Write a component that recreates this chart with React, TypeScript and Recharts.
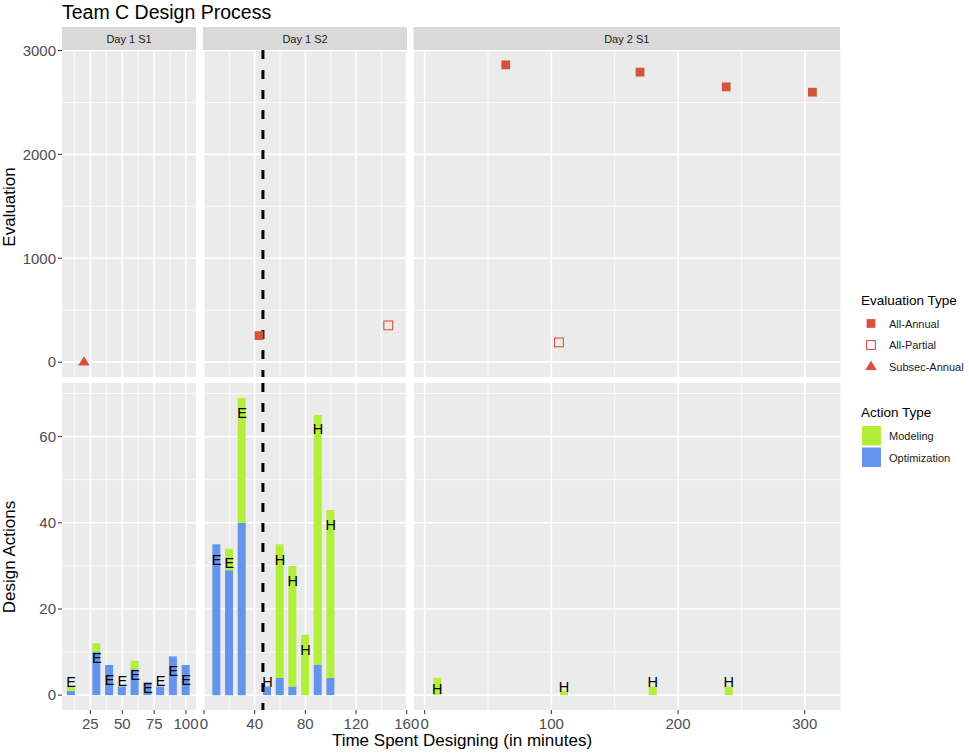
import React from 'react'
import { ComposedChart, Bar, Scatter, XAxis, YAxis, CartesianGrid, ReferenceLine } from 'recharts'

// Day 1 S1 design actions
const s1Minutes = [10, 30, 40, 50, 60, 70, 80, 90, 100]
const s1Optimization = [1, 10, 7, 2, 6, 3, 2, 9, 7]
const s1Modeling = [1, 2, 0, 0, 2, 0, 0, 0, 0]
const s1Labels = ['E', 'E', 'E', 'E', 'E', 'E', 'E', 'E', 'E']
const s1LabelY = [3.1, 8.6, 3.5, 3.2, 4.6, 1.6, 3.2, 5.6, 3.5]

// Day 1 S2 design actions
const s2Minutes = [10, 20, 30, 50, 60, 70, 80, 90, 100]
const s2Optimization = [35, 29, 40, 2, 4, 2, 0, 7, 4]
const s2Modeling = [0, 5, 29, 0, 31, 28, 14, 58, 39]
const s2Labels = ['E', 'E', 'E', 'H', 'H', 'H', 'H', 'H', 'H']
const s2LabelY = [31.4, 30.7, 65.6, 3.1, 31.4, 26.5, 10.5, 61.7, 39.6]

// Day 2 S1 design actions
const d2Minutes = [10, 110, 180, 240]
const d2Optimization = [0, 0, 0, 0]
const d2Modeling = [4, 1, 2, 2]
const d2Labels = ['H', 'H', 'H', 'H']
const d2LabelY = [1.5, 1.9, 3.1, 3.1]

// evaluations
const s1EvalMinutes = [20]
const s1EvalValues = [0]
const s1EvalTypes = ['Subsec-Annual']
const s2EvalMinutes = [43.4, 145.4]
const s2EvalValues = [255, 354]
const s2EvalTypes = ['All-Annual', 'All-Partial']
const d2EvalMinutes = [64, 106, 170, 238, 306]
const d2EvalValues = [2862, 190, 2792, 2650, 2599]
const d2EvalTypes = ['All-Annual', 'All-Partial', 'All-Annual', 'All-Annual', 'All-Annual']

const breakMinute = 46.5

const evalTicks = [0, 1000, 2000, 3000]
const evalMinor = [500, 1500, 2500]
const actionTicks = [0, 20, 40, 60]
const actionMinor = [10, 30, 50, 70]

const RED = '#D4533C'
const GREEN = '#B3EE3A'
const BLUE = '#6495ED'
const PANEL_BG = '#EBEBEB'
const STRIP_BG = '#D9D9D9'
const TICK_TEXT = '#4D4D4D'
const FONT = '"Liberation Sans", Arial, Helvetica, sans-serif'

const bars = (xs: number[], opt: number[], mod: number[]) =>
  xs.map((x, i) => ({ x, opt: opt[i], mod: mod[i] }))
const labels = (xs: number[], ys: number[], txt: string[]) =>
  xs.map((x, i) => ({ x, y: ys[i], label: txt[i] }))
const evals = (xs: number[], ys: number[], kinds: string[]) =>
  xs.map((x, i) => ({ x, y: ys[i], kind: kinds[i] }))

const panels = [
  {
    title: 'Day 1 S1', left: 62, width: 134, domain: [2.8, 107.8], ticks: [25, 50, 75, 100],
    minor: [12.5, 37.5, 62.5, 87.5],
    bars: bars(s1Minutes, s1Optimization, s1Modeling),
    labels: labels(s1Minutes, s1LabelY, s1Labels),
    evals: evals(s1EvalMinutes, s1EvalValues, s1EvalTypes),
    dashed: false,
  },
  {
    title: 'Day 1 S2', left: 203, width: 204, domain: [-0.8, 160.2], ticks: [0, 40, 80, 120, 160],
    minor: [20, 60, 100, 140],
    bars: bars(s2Minutes, s2Optimization, s2Modeling),
    labels: labels(s2Minutes, s2LabelY, s2Labels),
    evals: evals(s2EvalMinutes, s2EvalValues, s2EvalTypes),
    dashed: true,
  },
  {
    title: 'Day 2 S1', left: 413.5, width: 426.5, domain: [-8.4, 328.2], ticks: [0, 100, 200, 300],
    minor: [50, 150, 250],
    bars: bars(d2Minutes, d2Optimization, d2Modeling),
    labels: labels(d2Minutes, d2LabelY, d2Labels),
    evals: evals(d2EvalMinutes, d2EvalValues, d2EvalTypes),
    dashed: false,
  },
]

const rows = [
  { key: 'eval', top: 50, height: 327, domain: [-143, 3005], ticks: evalTicks, minor: evalMinor },
  { key: 'actions', top: 383, height: 327, domain: [-3.45, 72.45], ticks: actionTicks, minor: actionMinor },
]

const PAD_X = 22
const PAD_T = 14
const Y_AXIS_W = 55
const X_AXIS_H = 34

const evalShape = (props: any) => {
  const { cx, cy } = props
  if (cx == null || cy == null) return <g />
  const kind = props.payload?.kind ?? props.kind
  if (kind === 'Subsec-Annual') {
    return <polygon points={`${cx},${cy - 6} ${cx - 5.8},${cy + 3.3} ${cx + 5.8},${cy + 3.3}`} fill={RED} />
  }
  if (kind === 'All-Partial') {
    return <rect x={cx - 4.4} y={cy - 4.4} width={8.8} height={8.8} fill="none" stroke={RED} strokeWidth={1.1} />
  }
  return <rect x={cx - 4.4} y={cy - 4.4} width={8.8} height={8.8} fill={RED} />
}

const labelShape = (props: any) => {
  const { cx, cy } = props
  if (cx == null || cy == null) return <g />
  return (
    <text x={cx} y={cy} textAnchor="middle" dominantBaseline="central" fontSize={14.5} fill="#000">
      {props.payload?.label ?? props.label}
    </text>
  )
}

function FacetChart({ panel, row, first }: { panel: any; row: any; first: boolean }) {
  const showX = row.key === 'actions'
  const padL = first ? panel.left : PAD_X
  const padB = showX ? X_AXIS_H : PAD_T
  const w = panel.width + padL + PAD_X
  const h = row.height + PAD_T + padB
  return (
    <div style={{ position: 'absolute', left: panel.left - padL, top: row.top - PAD_T }}>
      <ComposedChart
        width={w}
        height={h}
        data={showX ? panel.bars : undefined}
        margin={{ top: PAD_T, right: PAD_X, bottom: showX ? 0 : padB, left: first ? padL - Y_AXIS_W : padL }}
      >
        <CartesianGrid
          fill={PANEL_BG}
          stroke="#FFFFFF"
          strokeWidth={0.8}
          horizontalValues={row.minor}
          verticalValues={panel.minor}
        />
        <CartesianGrid
          stroke="#FFFFFF"
          strokeWidth={1.6}
          horizontalValues={row.ticks}
          verticalValues={panel.ticks}
        />
        <XAxis
          type="number"
          dataKey="x"
          domain={panel.domain}
          ticks={panel.ticks}
          allowDataOverflow
          interval={0}
          hide={!showX}
          height={X_AXIS_H}
          axisLine={false}
          tickSize={4}
          tickMargin={4}
          tickLine={{ stroke: '#333333' }}
          tick={{ fill: TICK_TEXT, fontSize: 15 }}
        />
        <YAxis
          type="number"
          domain={row.domain}
          ticks={row.ticks}
          allowDataOverflow
          interval={0}
          hide={!first}
          width={Y_AXIS_W}
          axisLine={false}
          tickSize={4}
          tickMargin={2}
          tickLine={{ stroke: '#333333' }}
          tick={{ fill: TICK_TEXT, fontSize: 15 }}
        />
        {showX && <Bar dataKey="opt" stackId="s" fill={BLUE} barSize={8} isAnimationActive={false} />}
        {showX && <Bar dataKey="mod" stackId="s" fill={GREEN} barSize={8} isAnimationActive={false} />}
        {!showX && <Scatter data={panel.evals} dataKey="y" shape={evalShape} isAnimationActive={false} />}
        {panel.dashed && (
          <ReferenceLine
            segment={[{ x: breakMinute, y: row.domain[1] }, { x: breakMinute, y: row.domain[0] }]}
            stroke="#000000"
            strokeWidth={3}
            strokeDasharray="9 11"
            ifOverflow="hidden"
          />
        )}
        {showX && <Scatter data={panel.labels} dataKey="y" shape={labelShape} isAnimationActive={false} />}
      </ComposedChart>
    </div>
  )
}

export default function App() {
  return (
    <div style={{ position: 'absolute', left: 0, top: 0, width: 969, height: 754, background: '#FFFFFF', fontFamily: FONT }}>
      {rows.map((row) =>
        panels.map((panel, i) => (
          <FacetChart key={row.key + panel.title} panel={panel} row={row} first={i === 0} />
        ))
      )}
      <svg width={969} height={754} style={{ position: 'absolute', left: 0, top: 0, pointerEvents: 'none' }} fontFamily={FONT}>
        <text x={62} y={18.5} fontSize={19.5} fill="#000">Team C Design Process</text>
        {panels.map((p) => (
          <g key={p.title}>
            <rect x={p.left} y={27} width={p.width} height={23} fill={STRIP_BG} />
            <text x={p.left + p.width / 2} y={38.8} textAnchor="middle" dominantBaseline="central" fontSize={11} fill="#1A1A1A">
              {p.title}
            </text>
          </g>
        ))}
        <text transform="translate(15,207) rotate(-90)" textAnchor="middle" fontSize={17} fill="#000">Evaluation</text>
        <text transform="translate(15,557) rotate(-90)" textAnchor="middle" fontSize={17} fill="#000">Design Actions</text>
        <text x={462} y={745.5} textAnchor="middle" fontSize={17} fill="#000">Time Spent Designing (in minutes)</text>

        <text x={861} y={304.5} fontSize={13.5} fill="#000">Evaluation Type</text>
        <rect x={866.6} y={319.1} width={8.8} height={8.8} fill={RED} />
        <rect x={866.6} y={340.6} width={8.8} height={8.8} fill="none" stroke={RED} strokeWidth={1.1} />
        <polygon points="871,360.7 865.2,370 876.8,370" fill={RED} />
        <text x={889} y={323.5} dominantBaseline="central" fontSize={11} fill="#1A1A1A">All-Annual</text>
        <text x={889} y={345} dominantBaseline="central" fontSize={11} fill="#1A1A1A">All-Partial</text>
        <text x={889} y={366.7} dominantBaseline="central" fontSize={11} fill="#1A1A1A">Subsec-Annual</text>

        <text x={861} y={416.7} fontSize={13.5} fill="#000">Action Type</text>
        <rect x={862} y={426} width={19} height={19.5} fill={GREEN} />
        <rect x={862} y={447.5} width={19} height={19.5} fill={BLUE} />
        <text x={889} y={436} dominantBaseline="central" fontSize={11} fill="#1A1A1A">Modeling</text>
        <text x={889} y={457.5} dominantBaseline="central" fontSize={11} fill="#1A1A1A">Optimization</text>
      </svg>
    </div>
  )
}
